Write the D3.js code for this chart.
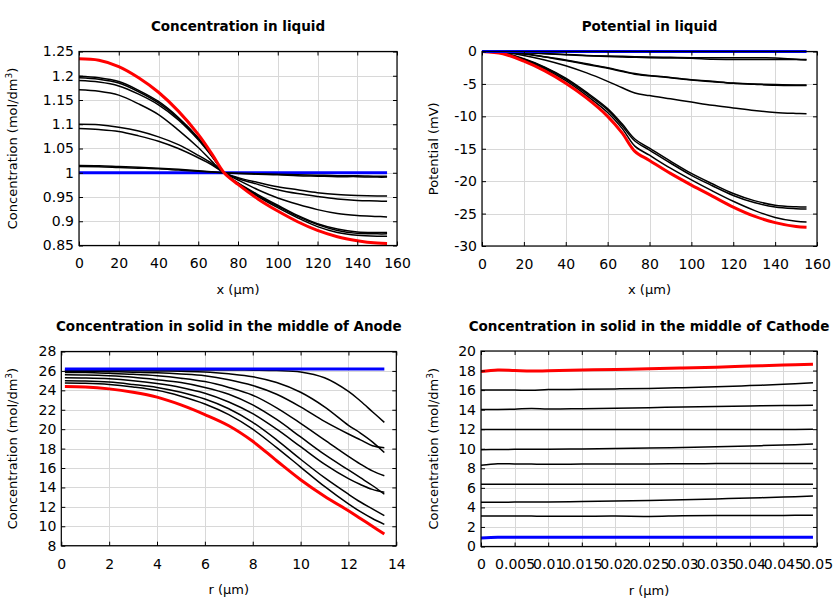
<!DOCTYPE html>
<html><head><meta charset="utf-8">
<script src="https://cdn.jsdelivr.net/npm/d3@7/dist/d3.min.js"></script>
<style>body{margin:0;background:#fff}svg{display:block}text{font-family:"DejaVu Sans",sans-serif;fill:#000}</style>
</head><body><svg id="c" width="840" height="600"></svg>
<script>
// ---------- Panel 1: Concentration in liquid ----------
const xLiq = [0,10,20,30,40,50,60,67,73,80,90,100,110,120,130,140,150,155];
const liqBlue = [1,1,1,1,1,1,1,1,1,1,1,1,1,1,1,1,1,1];
const liqRed = [1.235,1.232,1.219,1.196,1.166,1.127,1.079,1.038,1.0,0.976,0.946,0.921,0.899,0.881,0.868,0.860,0.855,0.854];
const liqA = [1.199,1.196,1.188,1.170,1.147,1.114,1.072,1.035,1.0,0.979,0.955,0.933,0.912,0.895,0.884,0.878,0.877,0.877];
const liqB = [1.196,1.193,1.185,1.167,1.144,1.112,1.070,1.034,1.0,0.978,0.953,0.931,0.910,0.893,0.881,0.875,0.874,0.874];
const liqC = [1.190,1.187,1.179,1.162,1.140,1.109,1.068,1.033,1.0,0.977,0.951,0.928,0.907,0.889,0.877,0.871,0.869,0.869];
const liqD = [1.171,1.168,1.160,1.142,1.120,1.088,1.052,1.023,1.0,0.985,0.965,0.948,0.935,0.924,0.916,0.912,0.910,0.909];
const liqE = [1.100,1.099,1.094,1.086,1.074,1.058,1.036,1.019,1.0,0.990,0.980,0.971,0.965,0.959,0.955,0.953,0.952,0.952];
const liqF = [1.091,1.089,1.085,1.076,1.065,1.050,1.031,1.016,1.0,0.988,0.976,0.965,0.957,0.951,0.946,0.943,0.942,0.941];
const liqG = [1.015,1.0145,1.013,1.0115,1.0095,1.007,1.004,1.002,1.0,0.999,0.998,0.997,0.996,0.995,0.994,0.994,0.993,0.993];
const liqH = [1.0128,1.0125,1.011,1.0095,1.008,1.0055,1.003,1.0015,1.0,0.9985,0.997,0.996,0.994,0.993,0.992,0.992,0.991,0.991];
const liqXTicks = [0,20,40,60,80,100,120,140,160];
const liqXLabels = ["0","20","40","60","80","100","120","140","160"];
const liqYTicks = [0.85,0.9,0.95,1,1.05,1.1,1.15,1.2,1.25];
const liqYLabels = ["0.85","0.9","0.95","1","1.05","1.1","1.15","1.2","1.25"];

// ---------- Panel 2: Potential in liquid ----------
const xPot = [0,10,20,30,40,50,60,67,73,80,90,100,110,120,130,140,150,155];
const potBlue = [0,0,0,0,0,0,0,0,0,0,0,0,0,0,0,0,0,0];
const potRed = [0,-0.35,-1.5,-3.0,-4.9,-7.2,-10.0,-12.6,-15.4,-16.8,-18.8,-20.6,-22.3,-24.0,-25.4,-26.4,-27.0,-27.1];
const potA = [0,-0.3,-1.3,-2.7,-4.5,-6.8,-9.4,-11.9,-14.6,-16.0,-18.0,-19.8,-21.5,-23.1,-24.5,-25.6,-26.2,-26.3];
const potB = [0,-0.25,-1.1,-2.4,-4.1,-6.3,-8.8,-11.2,-13.5,-14.9,-16.9,-18.8,-20.4,-21.9,-23.0,-23.7,-23.95,-24.0];
const potC = [0,-0.27,-1.2,-2.5,-4.25,-6.5,-9.0,-11.5,-13.8,-15.2,-17.2,-19.1,-20.7,-22.2,-23.3,-24.0,-24.25,-24.3];
const potD = [0,-0.15,-0.6,-1.3,-2.2,-3.3,-4.6,-5.6,-6.4,-6.8,-7.3,-7.8,-8.3,-8.7,-9.1,-9.4,-9.55,-9.6];
const potE = [0,-0.1,-0.35,-0.8,-1.3,-1.9,-2.5,-3.0,-3.4,-3.7,-4.0,-4.35,-4.6,-4.85,-5.0,-5.1,-5.15,-5.15];
const potF = [0,-0.1,-0.4,-0.85,-1.4,-2.0,-2.6,-3.1,-3.5,-3.75,-4.05,-4.4,-4.65,-4.9,-5.05,-5.2,-5.25,-5.25];
const potG = [0,-0.05,-0.15,-0.3,-0.45,-0.6,-0.7,-0.75,-0.8,-0.85,-0.9,-0.95,-0.97,-0.98,-0.98,-0.99,-1.2,-1.25];
const potH = [0,-0.05,-0.2,-0.35,-0.5,-0.65,-0.78,-0.85,-0.9,-0.95,-1.0,-1.05,-1.2,-1.22,-1.23,-1.24,-1.25,-1.3];
const potXTicks = [0,20,40,60,80,100,120,140,160];
const potXLabels = ["0","20","40","60","80","100","120","140","160"];
const potYTicks = [-30,-25,-20,-15,-10,-5,0];
const potYLabels = ["-30","-25","-20","-15","-10","-5","0"];

// ---------- Panel 3: Anode solid ----------
const rAn = [0.15,1,2,3,4,5,6,7,8,9,10,11,12,12.5,13,13.5];
const anBlue = [26.2,26.2,26.2,26.2,26.2,26.2,26.2,26.2,26.2,26.2,26.2,26.2,26.2,26.2,26.2,26.2];
const an1 = [26.1,26.1,26.1,26.1,26.1,26.1,26.1,26.1,26.08,26.04,25.9,25.3,23.9,22.9,21.8,20.7];
const an2 = [26.05,26.05,26.03,26.02,26.0,25.96,25.9,25.7,25.4,24.8,23.8,22.3,20.4,19.6,18.7,17.6];
const an3 = [25.95,25.95,25.92,25.87,25.8,25.68,25.5,25.1,24.5,23.6,22.3,20.8,19.5,18.9,18.3,18.1];
const an4 = [25.85,25.83,25.75,25.65,25.5,25.25,24.9,24.3,23.5,22.2,20.6,18.9,17.2,16.4,15.7,15.2];
const an5 = [25.6,25.58,25.5,25.35,25.1,24.8,24.3,23.6,22.5,21.0,19.2,17.4,15.8,15.0,14.2,13.3];
const an6 = [25.3,25.28,25.2,25.0,24.7,24.3,23.7,22.8,21.6,20.0,18.2,16.4,14.9,14.3,13.8,13.5];
const an7 = [25.0,24.97,24.85,24.6,24.3,23.8,23.1,22.1,20.7,18.9,16.9,15.0,13.3,12.5,11.8,11.1];
const an8 = [24.75,24.72,24.6,24.35,24.0,23.4,22.6,21.5,20.0,18.1,16.1,14.1,12.3,11.5,10.8,10.2];
const anRed = [24.4,24.35,24.15,23.8,23.3,22.5,21.5,20.35,18.75,16.75,14.8,13.1,11.6,10.8,10.0,9.2];
const anXTicks = [0,2,4,6,8,10,12,14];
const anXLabels = ["0","2","4","6","8","10","12","14"];
const anYTicks = [8,10,12,14,16,18,20,22,24,26,28];
const anYLabels = ["8","10","12","14","16","18","20","22","24","26","28"];

// ---------- Panel 4: Cathode solid ----------
const rCa = [0,0.0025,0.005,0.0075,0.01,0.015,0.02,0.025,0.03,0.035,0.04,0.045,0.0494];
const caBlue = [0.88,0.95,0.95,0.95,0.95,0.95,0.95,0.95,0.95,0.95,0.95,0.95,0.95];
const caRed = [17.9,18.05,18.0,17.95,17.98,18.05,18.12,18.18,18.26,18.35,18.46,18.56,18.65];
const ca1 = [16.0,16.0,16.0,15.98,16.05,16.08,16.12,16.17,16.25,16.34,16.46,16.6,16.75];
const ca2 = [14.02,14.02,14.05,14.12,14.07,14.1,14.14,14.2,14.27,14.33,14.38,14.42,14.45];
const ca3 = [11.96,11.96,11.96,11.96,11.96,11.96,11.96,11.96,11.96,11.96,11.96,11.96,11.99];
const ca4 = [9.9,9.92,9.94,9.95,9.96,9.98,10.02,10.07,10.14,10.21,10.29,10.38,10.48];
const ca5 = [8.3,8.46,8.45,8.43,8.42,8.43,8.44,8.45,8.46,8.48,8.5,8.5,8.48];
const ca6 = [6.37,6.37,6.37,6.37,6.37,6.37,6.37,6.37,6.37,6.37,6.37,6.37,6.37];
const ca7 = [4.53,4.53,4.54,4.55,4.56,4.6,4.65,4.71,4.78,4.87,4.96,5.06,5.17];
const ca8 = [3.12,3.12,3.12,3.11,3.1,3.1,3.11,3.08,3.14,3.17,3.17,3.18,3.2];
const caXTicks = [0,0.005,0.01,0.015,0.02,0.025,0.03,0.035,0.04,0.045,0.05];
const caXLabels = ["0","0.005","0.01","0.015","0.02","0.025","0.03","0.035","0.04","0.045","0.05"];
const caYTicks = [0,2,4,6,8,10,12,14,16,18,20];
const caYLabels = ["0","2","4","6","8","10","12","14","16","18","20"];

const svg = d3.select("#c");
svg.append("rect").attr("width",840).attr("height",600).attr("fill","#fff");

function panel(o){
  const x = d3.scaleLinear().domain(o.xd).range([o.l,o.r]);
  const y = d3.scaleLinear().domain(o.yd).range([o.b,o.t]);
  const g = svg.append("g");
  // grid
  g.append("g").selectAll("line").data(o.xt).join("line")
    .attr("x1",d=>Math.round(x(d))+0.5).attr("x2",d=>Math.round(x(d))+0.5)
    .attr("y1",o.t).attr("y2",o.b).attr("stroke","#d8d8d8").attr("stroke-width",1);
  g.append("g").selectAll("line").data(o.yt).join("line")
    .attr("y1",d=>Math.round(y(d))+0.5).attr("y2",d=>Math.round(y(d))+0.5)
    .attr("x1",o.l).attr("x2",o.r).attr("stroke","#d8d8d8").attr("stroke-width",1);
  // series
  const line = d3.line().x((d,i)=>x(o.xs[i])).y(d=>y(d)).curve(d3.curveCatmullRom.alpha(0.5));
  o.series.forEach(s=>{
    g.append("path").attr("d",line(s.v)).attr("fill","none")
      .attr("stroke",s.c).attr("stroke-width",s.w).attr("stroke-linejoin","round");
  });
  // axes (inward ticks)
  const fmt = (arr,lab)=>(d)=>lab[arr.indexOf(d)];
  const ax = (gen,tr)=>{
    const a = g.append("g").attr("transform",tr).call(gen);
    a.select(".domain").remove();
    a.selectAll("line").attr("stroke","#000");
    a.selectAll("text").attr("font-size",14).attr("font-family","DejaVu Sans");
    return a;
  };
  ax(d3.axisBottom(x).tickValues(o.xt).tickFormat(fmt(o.xt,o.xl)).tickSizeInner(-4).tickSizeOuter(0).tickPadding(13),`translate(0,${o.b})`);
  ax(d3.axisTop(x).tickValues(o.xt).tickFormat("").tickSizeInner(-4).tickSizeOuter(0),`translate(0,${o.t})`);
  ax(d3.axisLeft(y).tickValues(o.yt).tickFormat(fmt(o.yt,o.yl)).tickSizeInner(-4).tickSizeOuter(0).tickPadding(5),`translate(${o.l},0)`);
  ax(d3.axisRight(y).tickValues(o.yt).tickFormat("").tickSizeInner(-4).tickSizeOuter(0),`translate(${o.r},0)`);
  // frame
  g.append("rect").attr("x",o.l).attr("y",o.t).attr("width",o.r-o.l).attr("height",o.b-o.t)
    .attr("fill","none").attr("stroke","#000").attr("stroke-width",1.2);
  // title
  g.append("text").attr("x",(o.l+o.r)/2).attr("y",o.t-20.5).attr("text-anchor","middle")
    .attr("font-size",13.5).attr("font-weight","bold").text(o.title);
  // x label
  g.append("text").attr("x",(o.l+o.r)/2).attr("y",o.b+48).attr("text-anchor","middle")
    .attr("font-size",13).text(o.xlabel);
  // y label
  const yl = g.append("text").attr("transform",`translate(${o.ylx},${(o.t+o.b)/2}) rotate(-90)`)
    .attr("text-anchor","middle").attr("font-size",13);
  if(o.sup){
    yl.append("tspan").text(o.ylabel);
    yl.append("tspan").attr("font-size",9).attr("dy",-5).text("3");
    yl.append("tspan").attr("dy",5).text(")");
  } else yl.text(o.ylabel);
}

const K = "#000", KW = 1.5, CW = 3;
panel({l:79,r:397,t:51.5,b:245.5,xd:[0,160],yd:[0.85,1.25],xt:liqXTicks,xl:liqXLabels,yt:liqYTicks,yl:liqYLabels,
  xs:xLiq,title:"Concentration in liquid",xlabel:"x (µm)",ylabel:"Concentration (mol/dm",sup:true,ylx:17,
  series:[{v:liqBlue,c:"#0000ff",w:CW},{v:liqA,c:K,w:KW},{v:liqB,c:K,w:KW},{v:liqC,c:K,w:KW},{v:liqD,c:K,w:KW},
    {v:liqE,c:K,w:KW},{v:liqF,c:K,w:KW},{v:liqG,c:K,w:KW},{v:liqH,c:K,w:KW},{v:liqRed,c:"#ff0000",w:CW}]});
panel({l:482,r:817,t:51.5,b:246,xd:[0,160],yd:[-30,0],xt:potXTicks,xl:potXLabels,yt:potYTicks,yl:potYLabels,
  xs:xPot,title:"Potential in liquid",xlabel:"x (µm)",ylabel:"Potential (mV)",sup:false,ylx:438,
  series:[{v:potA,c:K,w:KW},{v:potB,c:K,w:KW},{v:potC,c:K,w:KW},{v:potD,c:K,w:KW},{v:potE,c:K,w:KW},
    {v:potF,c:K,w:KW},{v:potG,c:K,w:KW},{v:potH,c:K,w:KW},{v:potRed,c:"#ff0000",w:CW},{v:potBlue,c:"#0000ff",w:CW}]});
panel({l:61.3,r:396.3,t:351.5,b:545.7,xd:[0,14],yd:[8,28],xt:anXTicks,xl:anXLabels,yt:anYTicks,yl:anYLabels,
  xs:rAn,title:"Concentration in solid in the middle of Anode",xlabel:"r (µm)",ylabel:"Concentration (mol/dm",sup:true,ylx:17,
  series:[{v:an1,c:K,w:KW},{v:an2,c:K,w:KW},{v:an3,c:K,w:KW},{v:an4,c:K,w:KW},{v:an5,c:K,w:KW},{v:an6,c:K,w:KW},
    {v:an7,c:K,w:KW},{v:an8,c:K,w:KW},{v:anRed,c:"#ff0000",w:CW},{v:anBlue,c:"#0000ff",w:CW}]});
panel({l:481,r:817,t:351,b:546.5,xd:[0,0.05],yd:[0,20],xt:caXTicks,xl:caXLabels,yt:caYTicks,yl:caYLabels,
  xs:rCa,title:"Concentration in solid in the middle of Cathode",xlabel:"r (µm)",ylabel:"Concentration (mol/dm",sup:true,ylx:438,
  series:[{v:ca1,c:K,w:KW},{v:ca2,c:K,w:KW},{v:ca3,c:K,w:KW},{v:ca4,c:K,w:KW},{v:ca5,c:K,w:KW},{v:ca6,c:K,w:KW},
    {v:ca7,c:K,w:KW},{v:ca8,c:K,w:KW},{v:caRed,c:"#ff0000",w:CW},{v:caBlue,c:"#0000ff",w:CW}]});
</script></body></html>
